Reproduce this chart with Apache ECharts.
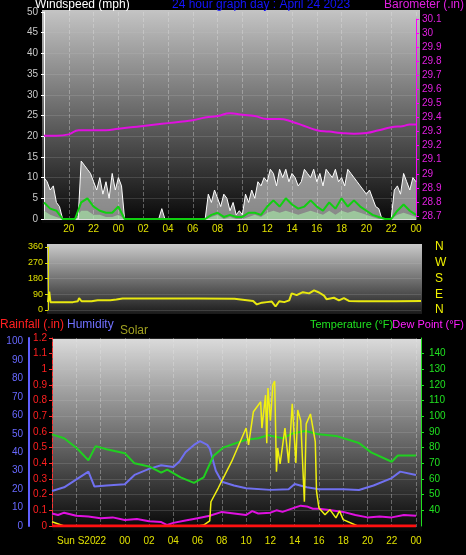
<!DOCTYPE html>
<html><head><meta charset="utf-8">
<script src="https://cdn.jsdelivr.net/npm/echarts@6/dist/echarts.min.js"></script>
<style>html,body{margin:0;padding:0;background:#000;}#c{width:466px;height:555px;}</style>
</head><body><div id="c"></div>
<script>
// hours relative to midnight (00) of day 1; axis runs -6 .. 24
const gustStart = -6, gustStep = 0.25;
const windGust = [10,9,7,8,4,3, 0,0,0,0,0,0,
 14,13,12,11,9,7,10,6,9,5,11,7,10,8,0,
 0,0,0,0,0,0,0,0,0,0,0, 2.5,
 0,0,0,0,0,0,0,0,0,0,0,0,0,0,
 6,4,7,5,3,6,5,2,4,1,2,1,
 6,4,7,5,9,8,10,9,12,11, 8,12,10,12,9,11,10,8,9,12, 11,10,12,9,11,8,12,11,10,12, 9,10,8,12,11,10,9,8,7,6, 7,5,3,2.5,
 0,0,0,0, 7,8,6,11,9,7,10,9];
const spdStart = -6, spdStep = 0.5;
const windSpeed = [4,2.5,2,0,0,0,4,5,3,2,1.5,1.5,3,0,
 0,0,0,0,0,0,0,0,0,0,0,0,0,
 1,1.5,0.5,1,0.5,0.5,1.5,1.5,1, 3,4.5,3,5,3.5,2.5,3,4.5,3,2, 4,2.5,5,3,4.5,3,2,1,0.5,0, 0,2,3.5,2,1];
const windLull = [2,1,0.5,0,0,0,2,2,1,1,0.5,0.5,1,0,
 0,0,0,0,0,0,0,0,0,0,0,0,0,
 0.5,1,0,0.5,0,0,0.5,1,0.5, 1.5,2,1.5,2,1.5,1,1.5,2,1.5,1, 2,1,2,1.5,2,1.5,1,0.5,0,0, 0,1,1.5,1,0.5];
const baro = [[-6,29.27],[-5,29.27],[-4,29.28],[-3.2,29.31],[-2,29.31],[-1,29.31],[0,29.32],[1,29.33],[2,29.34],[3,29.35],[4,29.36],[5,29.37],[6,29.38],[7,29.40],[8,29.41],[9,29.43],[10,29.42],[11,29.41],[12,29.39],[13,29.39],[14,29.37],[15,29.34],[16,29.31],[17,29.30],[18,29.29],[19,29.285],[20,29.29],[21,29.31],[22,29.33],[23,29.34],[23.5,29.35],[24,29.35]];
const windDir = [[-6,45],[-5.9,105],[-5.8,45],[-5,45],[-4,45],[-3.6,50],[-3.5,68],[-3.3,50],[-2.5,50],[-2,56],[-1,56],[-0.5,60],[0,66],[3,66],[6,66],[9,64],[9.5,60],[10,56],[10.5,52],[10.8,32],[11.2,42],[11.6,45],[12,48],[12.3,20],[12.6,50],[13,45],[13.4,55],[13.6,95],[14,85],[14.5,102],[15,95],[15.4,112],[15.8,100],[16.2,82],[16.4,62],[17,70],[17.4,55],[17.8,68],[18.2,52],[19,50],[20,50],[22,50],[24,52]];
const temperature = [[-6,88.5],[-5,86],[-4,80],[-3,72],[-2.4,81],[-1.5,79],[0,76.5],[0.8,70],[2,68],[3,64],[3.5,66],[4.6,61],[5.7,57.5],[6.5,61],[7.3,74.7],[8.1,80],[9.2,83],[10,85],[11,86],[11.8,88],[13,86],[13.8,89],[14.9,90.6],[16,88.5],[17.4,87.5],[19.3,83],[20.3,77],[22,71],[22.5,75],[23.7,75],[24,75]];
const humidity = [[-6,19],[-5,21],[-3,29.5],[-2.5,21.4],[-1.5,22],[0,22.7],[0.8,27.7],[2,31],[3,33],[4,32],[4.5,35],[5,40],[5.7,44],[6.2,46],[6.8,44],[7,42],[7.5,30],[8,24],[9,22],[10,20.5],[12,19.6],[13.5,20],[14,22.8],[15,21],[16,20],[18,20],[19.3,19.5],[20.5,22],[22,26],[22.7,29.5],[24,27.7]];
const dewPoint = [[-6,38],[-5.5,37],[-5,38.5],[-4,36.5],[-3,36],[-2,35],[-1,35.5],[0,33.8],[1,34.5],[2,33],[3,32.5],[3.5,30.6],[4,32],[5,33.5],[6,35],[7,36.5],[8,39],[9,38],[10,37],[10.5,39.5],[11,38],[12,38.5],[12.5,40],[13,39],[14,41.7],[14.5,43],[15,42.5],[15.5,41],[16,41],[17,40],[18,39],[19,37],[20,35.5],[21,36],[22,35.5],[23,37],[24,36.5]];
const solar = [[-6,23],[-5,0],[6,0],[6.5,5],[7,27],[7.1,129],[7.7,202],[8.8,342],[10,521],[10.2,431],[10.6,608],[11.2,661],[11.3,521],[11.6,697],[11.7,440],[11.8,734],[12,560],[12.2,750],[12.35,771],[12.5,289],[12.6,415],[12.8,330],[13.2,521],[13.5,335],[13.8,650],[14.1,335],[14.25,617],[14.5,560],[14.8,129],[14.95,543],[15.3,596],[15.7,449],[15.8,186],[16,96],[16.5,60],[16.9,87],[17.4,43],[17.7,80],[18,34],[19.2,0],[24,0]];
const rainfall = [[-6,0],[24,0]];
const timeTicks = ['18','20','22','00','02','04','06','08','10','12','14','16','18','20','22','00'];

const gustData = windGust.map((v,i)=>[gustStart+i*gustStep, v]);
const spdData = windSpeed.map((v,i)=>[spdStart+i*spdStep, v]);
const lullData = windLull.map((v,i)=>[spdStart+i*spdStep, v]);
function tl(v){ const i = Math.round((v+6)/2); return timeTicks[i] || ''; }

function grad(a,b){ return new echarts.graphic.LinearGradient(0,0,0,1,[{offset:0,color:a},{offset:1,color:b}]); }
const chart = echarts.init(document.getElementById('c'));
const font = 'Liberation Sans';
const gridLine = {show:true, lineStyle:{color:'rgba(230,230,230,0.35)', type:'dashed', width:1}};
const hLine = {show:true, lineStyle:{color:'rgba(200,200,200,0.18)', width:1}};
chart.setOption({
 backgroundColor:'#000', animation:false,
 textStyle:{fontFamily:font},
 graphic:[
  {type:'rect', z:-10, shape:{x:42,y:10,width:378,height:213}, style:{fill:grad('#c4c4c4','#060606')}},
  {type:'rect', z:-10, shape:{x:47,y:244,width:375,height:70}, style:{fill:grad('#cacaca','#1a1a1a')}},
  {type:'rect', z:-10, shape:{x:53,y:339,width:369,height:192}, style:{fill:grad('#dadada','#050505')}},
  {type:'text', left:35, top:-1, style:{text:'Windspeed (mph)', fill:'#fff', font:'12px '+font}},
  {type:'text', left:172, top:-1, style:{text:'24 hour graph day : April 24 2023', fill:'#1414ff', font:'12px '+font}},
  {type:'text', right:2, top:-1, style:{text:'Barometer (.in)', fill:'#e020e0', font:'12px '+font}},
  {type:'text', left:0, top:319, style:{text:'Rainfall (.in)', fill:'#ff2020', font:'12px '+font}},
  {type:'text', left:67, top:319, style:{text:'Humidity', fill:'#7070ff', font:'12px '+font}},
  {type:'text', left:120, top:325, style:{text:'Solar', fill:'#a0a020', font:'12px '+font}},
  {type:'text', left:310, top:319, style:{text:'Temperature (°F)', fill:'#20e020', font:'11px '+font}},
  {type:'text', right:2, top:319, style:{text:'Dew Point (°F)', fill:'#ff20ff', font:'11px '+font}}
 ],
 grid:[
  {left:44, right:50, top:12, height:207},
  {left:44, right:50, top:19, height:197},
  {left:48, right:45, top:247, height:63},
  {left:52, right:50, top:338, height:188}
 ],
 xAxis:[
  {type:'value', gridIndex:0, min:-6, max:24, interval:2, axisLine:{show:true,onZero:false,lineStyle:{color:'#ddd'}}, axisTick:{show:false},
   axisLabel:{color:'#e0e000', fontSize:10, showMinLabel:false, formatter:tl, margin:5}, splitLine:gridLine},
  {type:'value', gridIndex:1, min:-6, max:24, show:false},
  {type:'value', gridIndex:2, min:-6, max:24, interval:2, axisLine:{show:false}, axisTick:{show:false}, axisLabel:{show:false}, splitLine:{show:false}},
  {type:'value', gridIndex:3, min:-6, max:24, interval:2, axisLine:{show:true,onZero:false,lineStyle:{color:'#ddd'}}, axisTick:{show:false},
   axisLabel:{color:'#e0e000', fontSize:10, showMinLabel:false, margin:10, formatter:v=> v===-4 ? 'Sun S20' : tl(v)}, splitLine:gridLine}
 ],
 yAxis:[
  {type:'value', gridIndex:0, position:'left', min:0, max:50, interval:5, axisLine:{show:true,onZero:false,lineStyle:{color:'#fff'}}, axisTick:{show:true,length:3,lineStyle:{color:'#fff'}},
   axisLabel:{color:'#c8c8c8', fontSize:10, margin:6}, splitLine:hLine},
  {type:'value', gridIndex:1, position:'right', min:28.7, max:30.1, interval:0.1, axisLine:{show:true,onZero:false,lineStyle:{color:'#ff00ff'}}, axisTick:{show:true,length:3,lineStyle:{color:'#ff00ff'}},
   axisLabel:{color:'#e020e0', fontSize:10, margin:6, formatter:v=>String(+v.toFixed(1))}, splitLine:{show:false}},
  {type:'value', gridIndex:2, position:'left', min:0, max:360, interval:90, axisLine:{show:true,onZero:false,lineStyle:{color:'#e0e000'}}, axisTick:{show:true,length:3,lineStyle:{color:'#e0e000'}},
   axisLabel:{color:'#e0e000', fontSize:9, margin:5}, splitLine:hLine},
  {type:'value', gridIndex:2, position:'right', min:0, max:360, interval:90, axisLine:{show:false,onZero:false}, axisTick:{show:false},
   axisLabel:{color:'#f0f000', fontSize:12, margin:14, formatter:v=>['N','E','S','W','N'][v/90]}, splitLine:{show:false}},
  {type:'value', gridIndex:3, position:'left', min:0, max:1.2, interval:0.1, axisLine:{show:true,onZero:false,lineStyle:{color:'#ff3030',type:'dashed'}}, axisTick:{show:true,length:3,lineStyle:{color:'#ff3030'}},
   axisLabel:{color:'#ff2020', fontSize:10, margin:5, formatter:v=>String(+v.toFixed(1))}, splitLine:hLine},
  {type:'value', gridIndex:3, position:'left', min:0, max:102, interval:10, offset:23, axisLine:{show:true,onZero:false,lineStyle:{color:'#6060ff',width:2}}, axisTick:{show:false},
   axisLabel:{color:'#6868ff', fontSize:10, margin:6, showMaxLabel:false}, splitLine:{show:false}},
  {type:'value', gridIndex:3, position:'right', min:30, max:150, interval:10, offset:5, axisLine:{show:true,onZero:false,lineStyle:{color:'#20e020'}}, axisTick:{show:true,length:3,lineStyle:{color:'#20e020'}},
   axisLabel:{color:'#20e020', fontSize:10, margin:8, showMinLabel:false, showMaxLabel:false}, splitLine:{show:false}},
  {type:'value', gridIndex:3, position:'right', min:0, max:1000, show:false}
 ],
 series:[
  {type:'line', xAxisIndex:0, yAxisIndex:0, data:gustData, symbol:'none', lineStyle:{color:'#ffffff',width:1}, areaStyle:{color:'rgba(240,240,240,0.78)'}},
  {type:'line', xAxisIndex:0, yAxisIndex:0, data:lullData, symbol:'none', lineStyle:{width:0}, areaStyle:{color:'rgba(170,240,170,0.85)'}},
  {type:'line', xAxisIndex:0, yAxisIndex:0, data:spdData, symbol:'none', lineStyle:{color:'#10d010',width:2}},
  {type:'line', xAxisIndex:1, yAxisIndex:1, data:baro, symbol:'none', smooth:true, lineStyle:{color:'#e010e0',width:2}},
  {type:'line', xAxisIndex:2, yAxisIndex:2, data:windDir, symbol:'none', lineStyle:{color:'#e8e810',width:2}},
  {type:'line', xAxisIndex:3, yAxisIndex:5, data:humidity, symbol:'none', lineStyle:{color:'#7070f0',width:2}},
  {type:'line', xAxisIndex:3, yAxisIndex:6, data:temperature, symbol:'none', lineStyle:{color:'#20d020',width:2}},
  {type:'line', xAxisIndex:3, yAxisIndex:6, data:dewPoint, symbol:'none', lineStyle:{color:'#e010e0',width:2}},
  {type:'line', xAxisIndex:3, yAxisIndex:7, data:solar, symbol:'none', lineStyle:{color:'#f0f010',width:1.5}},
  {type:'line', xAxisIndex:3, yAxisIndex:4, data:rainfall, symbol:'none', lineStyle:{color:'#ff1010',width:3}}
 ]
});
</script></body></html>
